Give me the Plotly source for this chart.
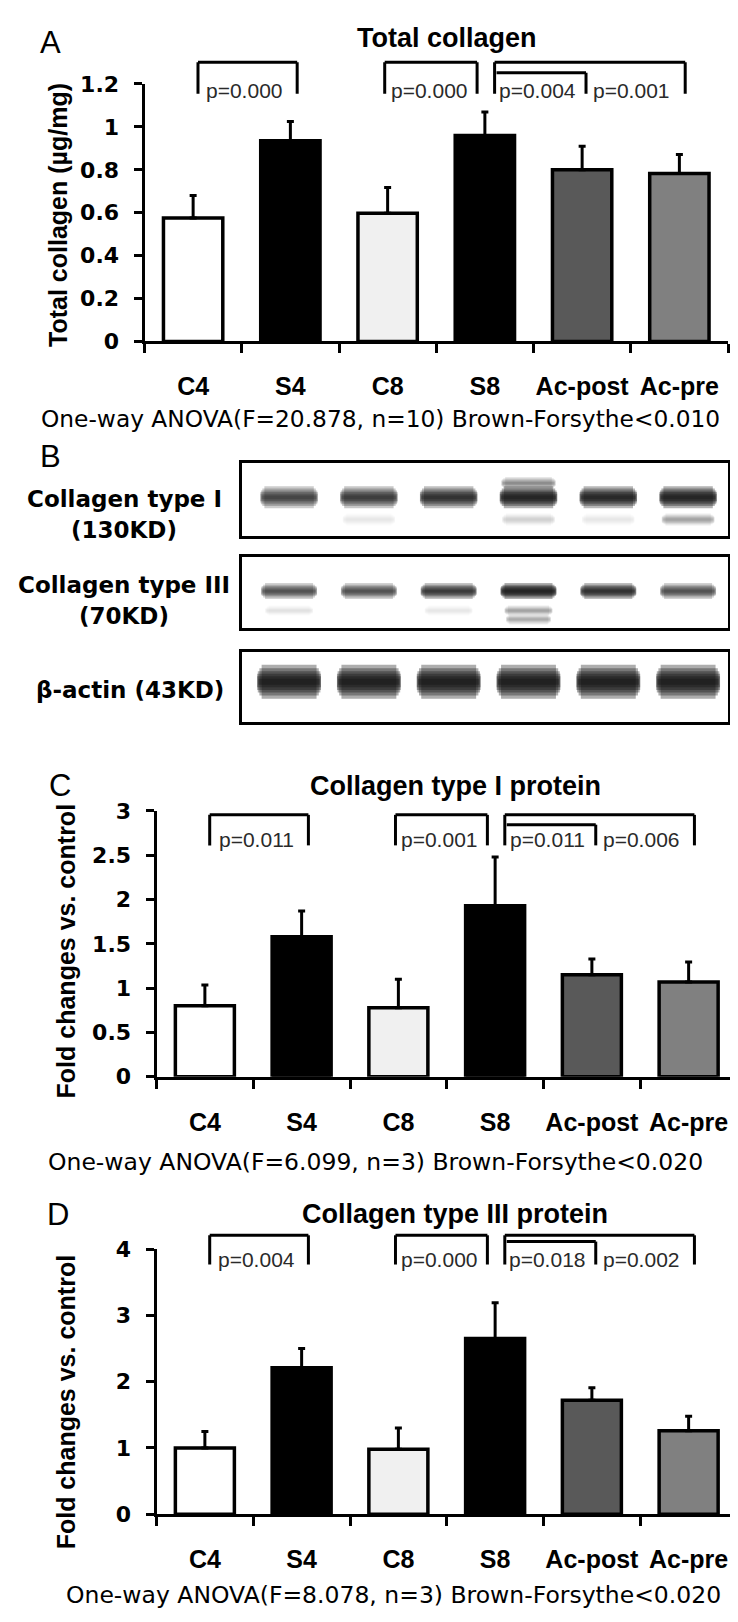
import plotly.graph_objects as go

W, H = 738, 1622

# ---------------- data ----------------
groups = ["C4", "S4", "C8", "S8", "Ac-post", "Ac-pre"]
bar_colors = ["#ffffff", "#000000", "#f0f0f0", "#000000", "#595959", "#808080"]

total_collagen = [0.575, 0.935, 0.598, 0.960, 0.800, 0.783]
total_collagen_err = [0.105, 0.090, 0.120, 0.110, 0.110, 0.088]

col1_protein = [0.80, 1.58, 0.78, 1.93, 1.15, 1.07]
col1_err = [0.235, 0.290, 0.320, 0.550, 0.180, 0.225]

col3_protein = [1.00, 2.21, 0.98, 2.65, 1.72, 1.26]
col3_err = [0.250, 0.290, 0.320, 0.540, 0.190, 0.220]

p_A = ["p=0.000", "p=0.000", "p=0.004", "p=0.001"]
p_C = ["p=0.011", "p=0.001", "p=0.011", "p=0.006"]
p_D = ["p=0.004", "p=0.000", "p=0.018", "p=0.002"]

anova_A = "One-way ANOVA(F=20.878, n=10) Brown-Forsythe<0.010"
anova_C = "One-way ANOVA(F=6.099, n=3) Brown-Forsythe<0.020"
anova_D = "One-way ANOVA(F=8.078, n=3) Brown-Forsythe<0.020"

title_A = "Total collagen"
title_C = "Collagen type I protein"
title_D = "Collagen type III protein"
ylab_A = "Total collagen (µg/mg)"
ylab_CD = "Fold changes vs. control"

blot_labels = [["Collagen type I", "(130KD)"], ["Collagen type III", "(70KD)"], ["β-actin (43KD)"]]

# western blot band darkness (0..1) per lane
band_col1 = [0.62, 0.68, 0.78, 0.95, 0.88, 0.95]
band_col1_upper = [0.0, 0.0, 0.0, 0.30, 0.0, 0.0]
band_col1_lower = [0.0, 0.04, 0.0, 0.10, 0.05, 0.22]
band_col3 = [0.55, 0.55, 0.72, 0.97, 0.80, 0.55]
band_col3_lower1 = [0.06, 0.0, 0.05, 0.22, 0.0, 0.0]
band_col3_lower2 = [0.0, 0.0, 0.0, 0.20, 0.0, 0.0]
band_actin = [1.0, 1.0, 1.0, 1.0, 1.0, 1.0]


def px(x):
    return x / W


def py(y):
    return 1 - y / H


fig = go.Figure()

BOLD_ARIAL = dict(family="Liberation Sans, Arial", weight="bold", color="black")
WIDE_BOLD = dict(family="DejaVu Sans", weight="bold", color="black")

# ---------------- bar panels ----------------
panels = [
    ("1", total_collagen, total_collagen_err, (136.5, 720), 326.5, 65.0, 1.2, 0.2),
    ("5", col1_protein, col1_err, (148.5, 729), 1073.3, 803.3, 3.0, 0.5),
    ("6", col3_protein, col3_err, (148.5, 729), 1517.7, 1248.3, 4.0, 1.0),
]

for name, vals, errs, (xl, xr), y0, ytop, ymax, dt in panels:
    xa = "x" if name == "1" else "x" + name
    ya = "y" if name == "1" else "y" + name
    fig.add_trace(go.Bar(
        x=groups, y=vals, xaxis=xa, yaxis=ya,
        marker=dict(color=bar_colors, line=dict(color="black", width=3.5)),
        error_y=dict(type="data", symmetric=False, array=errs, arrayminus=[0] * len(errs),
                     color="black", thickness=3, width=3.5),
        showlegend=False, cliponaxis=False,
    ))
    axkey = "xaxis" if name == "1" else "xaxis" + name
    aykey = "yaxis" if name == "1" else "yaxis" + name
    ticks_y = [round(i * dt, 3) for i in range(int(round(ymax / dt)) + 1)]
    fig.update_layout(**{
        axkey: dict(domain=[px(xl), px(xr)], anchor=ya, type="category", range=[-0.5, 5.5],
                    tickson="boundaries", ticks="outside", ticklen=9, tickwidth=3, tickcolor="black",
                    tickangle=0,
                    showline=True, linewidth=3, linecolor="black", showgrid=False, zeroline=False,
                    tickfont=dict(size=25, **BOLD_ARIAL), ticklabelstandoff=21, fixedrange=True),
        aykey: dict(domain=[py(y0), py(ytop)], anchor=xa, range=[0, ymax], tickvals=ticks_y,
                    ticks="outside", ticklen=8, tickwidth=3, tickcolor="black",
                    showline=True, linewidth=3, linecolor="black", showgrid=False, zeroline=False,
                    tickfont=dict(size=22, **WIDE_BOLD), ticklabelstandoff=10, fixedrange=True),
    })

# ---------------- significance brackets ----------------
shapes = []
annotations = []

bracket_specs = [
    ("x", 43.0, 53.5, 75.0, p_A, 72.0),
    ("x5", 807.3, 817.3, 838.3, p_C, 832.0),
    ("x6", 1234.3, 1240.7, 1264.0, p_D, 1259.0),
]
pair_x = [(0.05, 1.07), (1.97, 2.92)]
big_x = (3.10, 5.06)
inner_x = (3.12, 4.04)
p_xpos = [0.53, 2.43, 3.54, 4.51]

LINE = dict(color="black", width=3)
for xr_, top, inner, legs, plist, ty in bracket_specs:
    def seg(x0, y0_, x1, y1_):
        shapes.append(dict(type="line", xref=xr_, yref="paper", x0=x0, x1=x1,
                           y0=py(y0_), y1=py(y1_), line=LINE))
    for a, b in pair_x + [big_x]:
        seg(a, legs, a, top)
        seg(a, top, b, top)
        seg(b, top, b, legs)
    seg(inner_x[0], inner, inner_x[1], inner)
    seg(inner_x[1], inner, inner_x[1], legs)
    for txt, xp in zip(plist, p_xpos):
        annotations.append(dict(text=txt, xref=xr_, yref="paper", x=xp, y=py(ty),
                                showarrow=False, xanchor="center", yanchor="middle",
                                font=dict(family="Liberation Sans, Arial", size=21, color="#2a2a2a")))


def note(text, x, y, size, font, angle=0, xanchor="center"):
    annotations.append(dict(text=text, xref="paper", yref="paper", x=px(x), y=py(y),
                            showarrow=False, xanchor=xanchor, yanchor="middle", textangle=angle,
                            font=dict(size=size, **font)))


REG = dict(family="Liberation Sans, Arial", color="black")
note(title_A, 439, 18, 27, BOLD_ARIAL)
note(title_C, 447, 778, 27, BOLD_ARIAL)
note(title_D, 447, 1213, 27, BOLD_ARIAL)
for letter, lx, ly in [("A", 42, 23), ("B", 42, 443), ("C", 52, 777), ("D", 50, 1213)]:
    note(letter, lx, ly, 31, REG)

note(ylab_A, 50, 198, 25, BOLD_ARIAL, angle=-90)
note(ylab_CD, 58, 946, 25, BOLD_ARIAL, angle=-90)
note(ylab_CD, 58, 1404, 25, BOLD_ARIAL, angle=-90)

WIDE_REG = dict(family="DejaVu Sans", color="black")
note(anova_A, 372, 405, 23.3, WIDE_REG)
note(anova_C, 367, 1160, 23.5, WIDE_REG)
note(anova_D, 386, 1600, 23.5, WIDE_REG)

# ---------------- western blot (panel B) ----------------
blot_boxes = [(450, 524), (545, 618), (642, 713)]
blot_x = (234, 720)
lanes = list(range(len(groups)))

blot_rows = [
    ("2", [(band_col1, 0.06, 11, 0.36), (band_col1_upper, 0.45, 6, 0.34), (band_col1_lower, -0.55, 6, 0.33)]),
    ("3", [(band_col3, 0.04, 8, 0.35), (band_col3_lower1, -0.5, 5, 0.3), (band_col3_lower2, -0.75, 5, 0.28)]),
    ("4", [(band_actin, 0.15, 17, 0.40)]),
]

# blur layers: (thickness multiplier, length multiplier)
blur_layers = [(2.0, 0.86), (1.6, 0.93), (1.25, 0.98), (0.95, 1.0), (0.65, 1.0), (0.35, 0.96)]

for (ytop_px, ybot_px), (aid, bands) in zip(blot_boxes, blot_rows):
    fig.update_layout(**{
        "xaxis" + aid: dict(domain=[px(blot_x[0]), px(blot_x[1])], anchor="y" + aid,
                            range=[-0.59, 5.5], showline=True, mirror=True, linewidth=3,
                            linecolor="black", showticklabels=False, ticks="", showgrid=False,
                            zeroline=False, fixedrange=True),
        "yaxis" + aid: dict(domain=[py(ybot_px), py(ytop_px)], anchor="x" + aid,
                            range=[-1, 1], showline=True, mirror=True, linewidth=3,
                            linecolor="black", showticklabels=False, ticks="", showgrid=False,
                            zeroline=False, fixedrange=True),
    })
    for dark, off, thick, hw in bands:
        for lane, v in zip(lanes, dark):
            if v <= 0:
                continue
            for wmul, xmul in blur_layers:
                fig.add_trace(go.Scatter(
                    x=[lane - hw * xmul, lane + hw * xmul], y=[off, off],
                    xaxis="x" + aid, yaxis="y" + aid, mode="lines",
                    line=dict(color=f"rgba(15,15,15,{0.34 * v:.3f})", width=thick * wmul),
                    hoverinfo="skip", showlegend=False,
                ))

label_pos = [[(116, 487), (116, 518)], [(116, 574), (116, 605)], [(122, 680)]]
for labs, poss in zip(blot_labels, label_pos):
    for t, (lx, ly) in zip(labs, poss):
        note(t, lx, ly, 23, WIDE_BOLD)

fig.update_layout(
    width=W, height=H, autosize=False,
    margin=dict(l=0, r=0, t=0, b=0),
    paper_bgcolor="white", plot_bgcolor="white",
    bargap=0.39, showlegend=False,
    shapes=shapes, annotations=annotations,
)

fig.write_html("out.html")
